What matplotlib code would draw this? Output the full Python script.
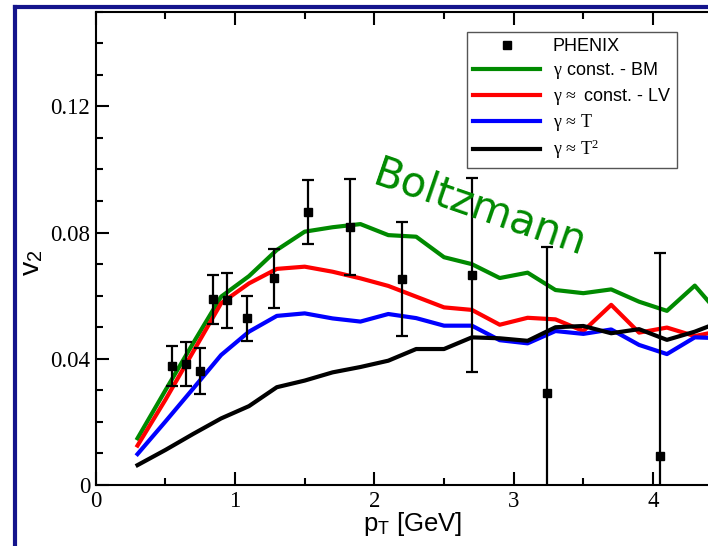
import numpy as np
import matplotlib
matplotlib.use("Agg")
import matplotlib.pyplot as plt
from matplotlib.lines import Line2D
from matplotlib.ticker import MultipleLocator, FuncFormatter

# PHENIX v2 data
phenix_pt = [0.55, 0.65, 0.745, 0.845, 0.945, 1.085, 1.28, 1.525, 1.825, 2.195, 2.70, 3.24, 4.05]
phenix_v2 = [0.0377, 0.0384, 0.0361, 0.0588, 0.0585, 0.0528, 0.0655, 0.0865, 0.0817, 0.0652, 0.0665, 0.0291, 0.0092]
phenix_err = [0.0064, 0.0069, 0.0074, 0.0077, 0.0086, 0.0070, 0.0093, 0.0102, 0.0152, 0.0181, 0.0308, 0.0462, 0.0644]

# model curves
pt = [0.3, 0.5, 0.7, 0.9, 1.1, 1.3, 1.5, 1.7, 1.9, 2.1, 2.3, 2.5, 2.7, 2.9,
      3.1, 3.3, 3.5, 3.7, 3.9, 4.1, 4.3, 4.5]
v2_bm = [0.0148, 0.0300, 0.0450, 0.0597, 0.0662, 0.0745, 0.0803, 0.0817, 0.0827, 0.0792, 0.0787,
         0.0722, 0.0700, 0.0656, 0.0673, 0.0618, 0.0608, 0.0620, 0.0581, 0.0552, 0.0632, 0.0530]
v2_lv = [0.0125, 0.0270, 0.0423, 0.0576, 0.0639, 0.0685, 0.0692, 0.0676, 0.0655, 0.0631, 0.0597,
         0.0563, 0.0555, 0.0508, 0.0530, 0.0525, 0.0488, 0.0571, 0.0483, 0.0499, 0.0472, 0.0490]
v2_T = [0.0098, 0.0201, 0.0306, 0.0412, 0.0486, 0.0536, 0.0544, 0.0528, 0.0518, 0.0542, 0.0529,
        0.0505, 0.0505, 0.0459, 0.0449, 0.0488, 0.0479, 0.0493, 0.0444, 0.0415, 0.0468, 0.0465]
v2_T2 = [0.0063, 0.0111, 0.0162, 0.0211, 0.0250, 0.0310, 0.0331, 0.0357, 0.0374, 0.0394, 0.0431,
         0.0431, 0.0468, 0.0465, 0.0457, 0.0500, 0.0504, 0.0481, 0.0494, 0.0460, 0.0486, 0.0520]

plt.rcParams['mathtext.fontset'] = 'custom'
plt.rcParams['mathtext.rm'] = 'Liberation Serif'
plt.rcParams['mathtext.it'] = 'Liberation Serif:italic'
plt.rcParams['mathtext.sf'] = 'Liberation Sans'
plt.rcParams['font.family'] = 'Liberation Sans'

green = '#008a00'

fig = plt.figure(figsize=(7.08, 5.46), dpi=100)
ax = fig.add_axes([0.1352, 0.1117, 0.8855, 0.8668])

ax.plot(pt, v2_bm, color=green, lw=3)
ax.plot(pt, v2_lv, color='#ff0000', lw=3)
ax.plot(pt, v2_T, color='#0000ff', lw=3)
ax.plot(pt, v2_T2, color='black', lw=3)
ax.errorbar(phenix_pt, phenix_v2, yerr=phenix_err, fmt='s', color='black', ms=6,
            elinewidth=1.6, capsize=4.5, capthick=1.6)

ax.set_xlim(0, 4.5)
ax.set_ylim(0, 0.15)
ax.xaxis.set_major_locator(MultipleLocator(1))
ax.xaxis.set_minor_locator(MultipleLocator(0.5))
ax.yaxis.set_major_locator(MultipleLocator(0.04))
ax.yaxis.set_minor_locator(MultipleLocator(0.01))
ax.xaxis.set_major_formatter(FuncFormatter(lambda v, p: '%d' % round(v)))
ax.yaxis.set_major_formatter(FuncFormatter(lambda v, p: '0' if abs(v) < 1e-9 else '%.2f' % v))
ax.tick_params(which='both', direction='in', top=True, right=True, width=1.5,
               labelsize=16.5, pad=4)
ax.tick_params(which='major', length=9.5)
ax.tick_params(which='minor', length=5)
for lab in ax.get_xticklabels() + ax.get_yticklabels():
    lab.set_family('Liberation Serif')
for s in ax.spines.values():
    s.set_linewidth(1.5)

ax.set_xlabel(r'p$_\mathsf{T}$ [GeV]', fontsize=18.5)
ax.xaxis.set_label_coords(0.506, -0.052)
ax.set_ylabel(r'v$_\mathsf{2}$', fontsize=20.5)
ax.yaxis.set_label_coords(-0.08, 0.47)

ax.text(2.76, 0.0878, 'Boltzmann', color=green, fontsize=30, family='DejaVu Sans',
        rotation=-19, ha='center', va='center', rotation_mode='anchor')

handles = [
    Line2D([], [], marker='s', ls='none', color='black', ms=6),
    Line2D([], [], color=green, lw=3),
    Line2D([], [], color='#ff0000', lw=3),
    Line2D([], [], color='#0000ff', lw=3),
    Line2D([], [], color='black', lw=3),
]
labels = ['PHENIX', r'$\mathrm{\gamma}$ const. - BM', r'$\mathrm{\gamma}\,\approx$ const. - LV',
          r'$\mathrm{\gamma}\,\approx\,\mathrm{T}$', r'$\mathrm{\gamma}\,\approx\,\mathrm{T^2}$']
leg = ax.legend(handles, labels, loc='upper left', bbox_to_anchor=(0.592, 0.957),
                borderaxespad=0, fontsize=13, numpoints=1, handlelength=3.7,
                handletextpad=0.7, labelspacing=0.27, borderpad=0.35, fancybox=False,
                framealpha=1, edgecolor='#555555')
leg.get_frame().set_linewidth(1.0)

# navy page frame
fig.add_artist(Line2D([0.0208, 0.0208], [0.0, 0.9863], transform=fig.transFigure,
                      color='#14148c', lw=3, solid_capstyle='projecting'))
fig.add_artist(Line2D([0.0208, 1.0], [0.9863, 0.9863], transform=fig.transFigure,
                      color='#14148c', lw=3, solid_capstyle='projecting'))

fig.savefig('out.png', dpi=100)
